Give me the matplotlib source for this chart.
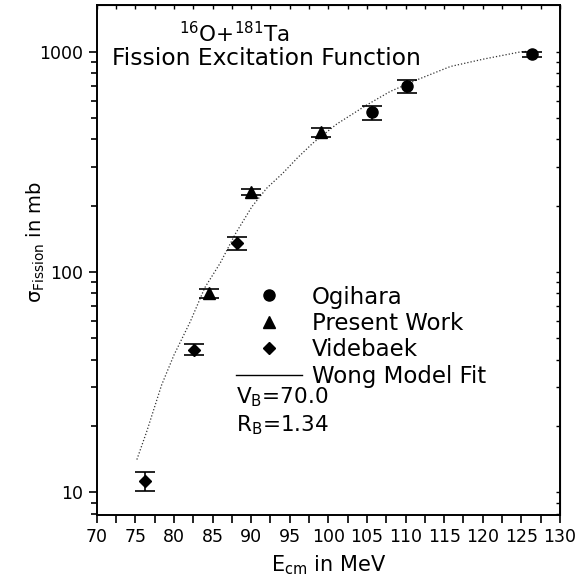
import matplotlib
matplotlib.use('Agg')
import matplotlib.pyplot as plt
from matplotlib.lines import Line2D
from matplotlib.ticker import FixedLocator, NullFormatter, FixedFormatter
import numpy as np

plt.rcParams['font.family'] = 'DejaVu Sans'
plt.rcParams['mathtext.fontset'] = 'dejavusans'

# Ogihara
ogi_x = [105.6, 110.2, 126.4]
ogi_y = [530, 696, 975]
ogi_err = [38, 45, 25]

# Present work
pw_x = [84.5, 90.0, 99.0]
pw_y = [80, 231, 432]
pw_err = [4, 8, 20]

# Videbaek
vid_x = [76.3, 82.6, 88.2]
vid_y = [11.3, 44.5, 135]
vid_err = [1.1, 2.5, 9]

# Wong model fit
fit_x = [75.2, 76.5, 78.4, 80.0, 82.1, 84.0, 86.0, 88.0, 90.1, 92.0, 94.1,
         96.0, 98.0, 101.1, 105.0, 108.0, 111.5, 115.8, 120.1, 124.8, 126.5]
fit_y = [14.1, 19, 30.7, 42, 59.4, 85, 110, 150, 198, 240, 281,
         330, 385, 470, 574, 660, 746, 857, 926, 997, 1010]

fig = plt.figure(figsize=(5.77, 5.79), dpi=100)
ax = fig.add_axes([0.1676, 0.1105, 0.8029, 0.8809])

ax.plot(fit_x, fit_y, color='#333333', lw=0.9, ls=(0, (1, 1.6)))

ebkw = dict(color='black', ecolor='black', elinewidth=1.2, capsize=7,
            capthick=1.2, ls='none')
ax.errorbar(ogi_x, ogi_y, yerr=ogi_err, marker='o', ms=8, **ebkw)
ax.errorbar(pw_x, pw_y, yerr=pw_err, marker='^', ms=8, **ebkw)
ax.errorbar(vid_x, vid_y, yerr=vid_err, marker='D', ms=6.5, **ebkw)

ax.set_yscale('log')
ax.set_xlim(70, 130)
ax.set_ylim(7.9, 1630)

ax.set_xticks(np.arange(70, 131, 5))
ax.set_xticks(np.arange(72.5, 130, 5), minor=True)
ax.yaxis.set_major_locator(FixedLocator([10, 100, 1000]))
ax.yaxis.set_major_formatter(FixedFormatter(['10', '100', '1000']))
ax.yaxis.set_minor_formatter(NullFormatter())

ax.tick_params(which='both', direction='out', labelsize=12.5, width=1.2)
ax.tick_params(which='major', length=6)
ax.tick_params(axis='x', which='minor', length=6)
ax.tick_params(axis='y', which='minor', length=4)
for s in ax.spines.values():
    s.set_linewidth(1.4)

top = ax.secondary_xaxis('top')
top.set_xticks(np.arange(70, 131, 5))
top.set_xticks(np.arange(72.5, 130, 5), minor=True)
top.tick_params(which='both', direction='in', labeltop=False, length=3, width=1)
right = ax.secondary_yaxis('right')
right.yaxis.set_major_locator(FixedLocator([10, 100, 1000]))
right.tick_params(which='both', direction='in', labelright=False, length=3, width=1)
right.yaxis.set_minor_formatter(NullFormatter())

ax.set_xlabel(r'E$_{\rm cm}$ in MeV', fontsize=15, labelpad=5)
ax.set_ylabel(r'σ$_{\rm Fission}$ in mb', fontsize=14, labelpad=0)
ax.yaxis.set_label_coords(-0.108, 0.535)

ax.text(80.6, 1207, r'$^{16}$O+$^{181}$Ta', fontsize=15.5, ha='left', va='center')
ax.text(72.0, 930, 'Fission Excitation Function', fontsize=16.8, ha='left', va='center')
ax.text(88.1, 27.0, r'V$_{\rm B}$=70.0', fontsize=15.5, ha='left', va='center')
ax.text(88.1, 20.2, r'R$_{\rm B}$=1.34', fontsize=15.5, ha='left', va='center')

handles = [
    Line2D([], [], color='black', marker='o', ms=8, ls='none'),
    Line2D([], [], color='black', marker='^', ms=8, ls='none'),
    Line2D([], [], color='black', marker='D', ms=6.5, ls='none'),
    Line2D([], [], color='black', lw=1.0),
]
labels = ['Ogihara', 'Present Work', 'Videbaek', 'Wong Model Fit']
ax.legend(handles, labels, loc='upper left', bbox_to_anchor=(0.3007, 0.450),
          frameon=False, fontsize=16.5, borderpad=0, borderaxespad=0,
          handlelength=2.87, handletextpad=0.44, labelspacing=0.15)

fig.savefig('out.png', dpi=100, facecolor='white')
